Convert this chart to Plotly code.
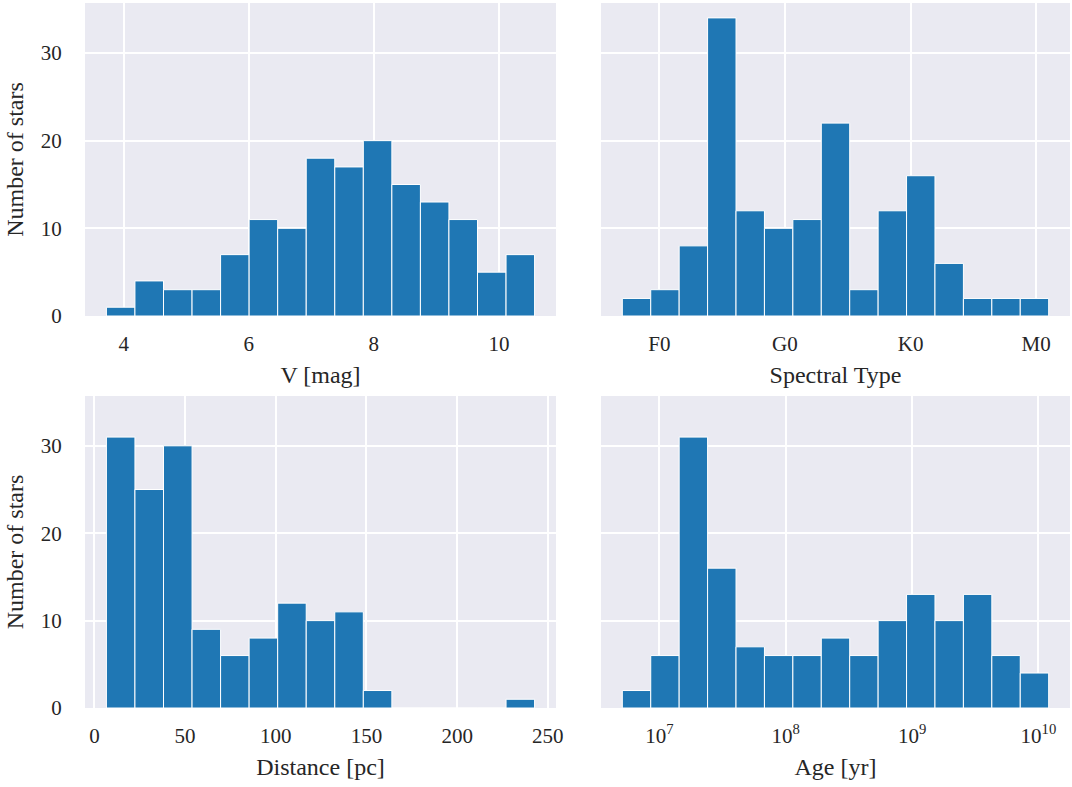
import numpy as np
import plotly.graph_objects as go

# ---- histogram data (15 equal-width bins per panel) ----
vmag_range = (3.723, 10.571)
vmag_counts = [1, 4, 3, 3, 7, 11, 10, 18, 17, 20, 15, 13, 11, 5, 7]

# spectral type encoded numerically: F0 = 0, G0 = 10, K0 = 20, M0 = 30
sptype_range = (-2.95, 31.0)
sptype_counts = [2, 3, 8, 34, 12, 10, 11, 22, 3, 12, 16, 6, 2, 2, 2]
sptype_tickvals = [0, 10, 20, 30]
sptype_ticktext = ["F0", "G0", "K0", "M0"]

dist_range = (6.6, 242.7)
dist_counts = [31, 25, 30, 9, 6, 8, 12, 10, 11, 2, 0, 0, 0, 0, 1]

# age binned in log10(yr)
logage_range = (6.706, 10.081)
age_counts = [2, 6, 31, 16, 7, 6, 6, 8, 6, 10, 13, 10, 13, 6, 4]
age_tickvals = [7, 8, 9, 10]
age_ticktext = ["10<sup>7</sup>", "10<sup>8</sup>", "10<sup>9</sup>", "10<sup>10</sup>"]

BAR = "#1f77b4"
BG = "#EAEAF2"
FONT = "Liberation Serif"
TEXT = "#262626"
TICK_SIZE = 21
LABEL_SIZE = 24

W, H = 1072, 787


def bins(rng, counts):
    edges = np.linspace(rng[0], rng[1], len(counts) + 1)
    centers = (edges[:-1] + edges[1:]) / 2
    widths = np.diff(edges)
    pad = 0.05 * (rng[1] - rng[0])
    return centers, widths, [rng[0] - pad, rng[1] + pad]


panels = [
    dict(rng=vmag_range, counts=vmag_counts, title="V [mag]",
         xd=(85, 556), yd=(3, 316), ticks=dict(tickvals=[4, 6, 8, 10])),
    dict(rng=sptype_range, counts=sptype_counts, title="Spectral Type",
         xd=(601, 1070), yd=(3, 316),
         ticks=dict(tickvals=sptype_tickvals, ticktext=sptype_ticktext)),
    dict(rng=dist_range, counts=dist_counts, title="Distance [pc]",
         xd=(85, 556), yd=(396, 708),
         ticks=dict(tickvals=[0, 50, 100, 150, 200, 250])),
    dict(rng=logage_range, counts=age_counts, title="Age [yr]",
         xd=(601, 1070), yd=(396, 708),
         ticks=dict(tickvals=age_tickvals, ticktext=age_ticktext)),
]

fig = go.Figure()
layout = {}
ymax = 1.05 * max(max(p["counts"]) for p in panels)

for i, p in enumerate(panels, start=1):
    centers, widths, xr = bins(p["rng"], p["counts"])
    sfx = "" if i == 1 else str(i)
    fig.add_trace(go.Bar(
        x=centers, y=p["counts"], width=widths,
        marker=dict(color=BAR, line=dict(color="white", width=1)),
        xaxis="x" + sfx, yaxis="y" + sfx, showlegend=False,
    ))
    layout["xaxis" + sfx] = dict(
        domain=[p["xd"][0] / W, p["xd"][1] / W],
        anchor="y" + sfx, range=xr, automargin=False,
        showgrid=True, gridcolor="white", gridwidth=1.5, zeroline=False,
        ticks="outside", ticklen=9, tickcolor="rgba(0,0,0,0)",
        tickfont=dict(family=FONT, size=TICK_SIZE, color=TEXT),
        title=dict(text=p["title"], standoff=10,
                   font=dict(family=FONT, size=LABEL_SIZE, color=TEXT)),
        showline=False, fixedrange=True, **p["ticks"],
    )
    left = i in (1, 3)
    yax = dict(
        domain=[1 - p["yd"][1] / H, 1 - p["yd"][0] / H],
        anchor="x" + sfx, range=[0, ymax], automargin=False,
        tickvals=[0, 10, 20, 30], showticklabels=left,
        showgrid=True, gridcolor="white", gridwidth=1.5, zeroline=False,
        ticks="outside" if left else "", ticklen=18, tickcolor="rgba(0,0,0,0)",
        tickfont=dict(family=FONT, size=TICK_SIZE, color=TEXT),
        showline=False, fixedrange=True,
    )
    if left:
        yax["title"] = dict(text="Number of stars", standoff=10,
                            font=dict(family=FONT, size=LABEL_SIZE, color=TEXT))
    layout["yaxis" + sfx] = yax

fig.update_layout(
    width=W, height=H,
    margin=dict(l=0, r=0, t=0, b=0),
    paper_bgcolor="white", plot_bgcolor=BG,
    font=dict(family=FONT, color=TEXT),
    **layout,
)

fig.write_html("out.html")
